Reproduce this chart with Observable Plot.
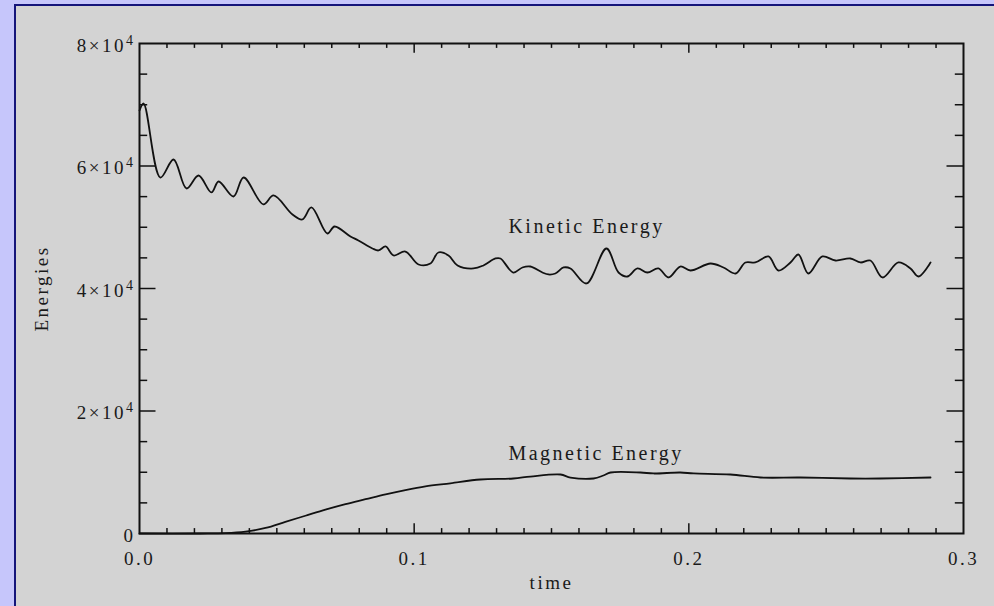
<!DOCTYPE html>
<html>
<head>
<meta charset="utf-8">
<script src="https://cdn.jsdelivr.net/npm/d3@7"></script>
<script src="https://cdn.jsdelivr.net/npm/@observablehq/plot@0.6"></script>
<style>
  html, body { margin: 0; padding: 0; }
  body { width: 994px; height: 606px; background: #c6c6fb; position: relative; overflow: hidden; }
  #panel { position: absolute; left: 14px; top: 4px; width: 980px; height: 602px; background: #d3d3d3; border-top: 2px solid #14147a; border-left: 2px solid #14147a; }
  #chart { position: absolute; left: 0; top: 0; }
  #chart svg text { letter-spacing: 2.5px; }
</style>
</head>
<body>
<div id="panel"></div>
<div id="chart"></div>
<script>
// Kinetic energy series (time, energy)
const kinTime = [0, 0.0015, 0.0076, 0.0124, 0.0171, 0.0215, 0.0262, 0.0288, 0.0342, 0.0379, 0.0451, 0.0488, 0.0557, 0.0593, 0.0626, 0.0684, 0.0710, 0.0768, 0.0797, 0.0848, 0.0870, 0.0896, 0.0925, 0.0968, 0.1016, 0.1059, 0.1088, 0.1125, 0.1158, 0.1216, 0.1252, 0.1296, 0.1314, 0.1361, 0.1394, 0.1423, 0.1467, 0.1489, 0.1514, 0.1544, 0.1569, 0.1627, 0.1700, 0.1744, 0.1776, 0.1813, 0.1849, 0.1889, 0.1926, 0.1969, 0.2006, 0.2079, 0.2126, 0.2170, 0.2206, 0.2242, 0.2290, 0.2326, 0.2370, 0.2399, 0.2435, 0.2486, 0.2534, 0.2588, 0.2625, 0.2661, 0.2705, 0.2763, 0.2807, 0.2836, 0.2880];
const kinEnergy = [69060, 70200, 58120, 61060, 56330, 58450, 55680, 57470, 55020, 58120, 53720, 55190, 52080, 51270, 53230, 48980, 50120, 48490, 47840, 46530, 46210, 46860, 45390, 46040, 43920, 44080, 45880, 45390, 43760, 43270, 43760, 44900, 44900, 42610, 43430, 43590, 42610, 42290, 42450, 43430, 43270, 40820, 46530, 42610, 41960, 43270, 42610, 43270, 41800, 43590, 42940, 44080, 43430, 42450, 44250, 44250, 45230, 42940, 44250, 45550, 42450, 45230, 44570, 44900, 44250, 44570, 41800, 44250, 43270, 41960, 44250];

// Magnetic energy series (time, energy)
const magTime = [0, 0.0222, 0.0313, 0.0386, 0.0459, 0.0531, 0.0604, 0.0677, 0.0750, 0.0823, 0.0896, 0.0968, 0.1041, 0.1132, 0.1241, 0.1361, 0.1423, 0.1533, 0.1569, 0.1653, 0.1689, 0.1715, 0.1824, 0.1871, 0.1969, 0.2017, 0.2151, 0.2261, 0.2406, 0.2588, 0.2697, 0.2880];
const magEnergy = [0, 0, 50, 300, 900, 1900, 2900, 3900, 4800, 5600, 6400, 7100, 7700, 8200, 8820, 8980, 9300, 9630, 9140, 8980, 9470, 9960, 9960, 9800, 9960, 9800, 9630, 9140, 9140, 8980, 8980, 9140];

// Curve labels
const labelText = ["Kinetic Energy", "Magnetic Energy"];
const labelTime = [0.1343, 0.1343];
const labelEnergy = [50100, 13060];

// Ticks
const xMajor = [0, 0.1, 0.2, 0.3];
const xMinor = [0.01, 0.02, 0.03, 0.04, 0.05, 0.06, 0.07, 0.08, 0.09, 0.11, 0.12, 0.13, 0.14, 0.15, 0.16, 0.17, 0.18, 0.19, 0.21, 0.22, 0.23, 0.24, 0.25, 0.26, 0.27, 0.28, 0.29];
const xMajorInner = [0.1, 0.2];
const yMajor = [0, 20000, 40000, 60000, 80000];
const yMajorInner = [20000, 40000, 60000];
const yMinor = [5000, 10000, 15000, 25000, 30000, 35000, 45000, 50000, 55000, 65000, 70000, 75000];

const kinetic = kinTime.map((t, i) => ({t, e: kinEnergy[i]}));
const magnetic = magTime.map((t, i) => ({t, e: magEnergy[i]}));
const labels = labelText.map((s, i) => ({s, t: labelTime[i], e: labelEnergy[i]}));

const W = 994, H = 606, mL = 139, mR = 31, mT = 43, mB = 73;
const pw = W - mL - mR, ph = H - mT - mB;
const ink = "#111";

const chart = Plot.plot({
  width: W, height: H,
  marginLeft: mL, marginRight: mR, marginTop: mT, marginBottom: mB,
  x: {domain: [0, 0.3]},
  y: {domain: [0, 80000]},
  style: {background: "transparent", fontFamily: "'Liberation Serif', 'DejaVu Serif', serif", color: "#1a1a1a", overflow: "visible"},
  marks: [
    // minor & major ticks, bottom and top
    Plot.tickX(xMinor, {x: d => d, insetTop: ph - 4.9, stroke: ink, strokeWidth: 1.5}),
    Plot.tickX(xMinor, {x: d => d, insetBottom: ph - 4.9, stroke: ink, strokeWidth: 1.5}),
    Plot.tickX(xMajorInner, {x: d => d, insetTop: ph - 9.8, stroke: ink, strokeWidth: 1.5}),
    Plot.tickX(xMajorInner, {x: d => d, insetBottom: ph - 9.8, stroke: ink, strokeWidth: 1.5}),
    // minor & major ticks, left and right
    Plot.tickY(yMinor, {y: d => d, insetRight: pw - 8.2, stroke: ink, strokeWidth: 1.5}),
    Plot.tickY(yMinor, {y: d => d, insetLeft: pw - 8.2, stroke: ink, strokeWidth: 1.5}),
    Plot.tickY(yMajorInner, {y: d => d, insetRight: pw - 16.5, stroke: ink, strokeWidth: 1.5}),
    Plot.tickY(yMajorInner, {y: d => d, insetLeft: pw - 16.5, stroke: ink, strokeWidth: 1.5}),
    Plot.frame({stroke: ink, strokeWidth: 2}),
    Plot.axisX({ticks: xMajor, tickSize: 0, tickPadding: 18, tickFormat: d3.format(".1f"), fontSize: 19, label: null}),
    Plot.axisY({ticks: yMajor, tickSize: 0, tickPadding: 4, dy: 2, tickFormat: d => d === 0 ? "0" : `${d / 1e4}×10^4`, fontSize: 19, label: null}),
    Plot.text(["time"], {frameAnchor: "bottom", dy: 49, fontSize: 19, lineAnchor: "middle", textAnchor: "middle"}),
    Plot.text(["Energies"], {frameAnchor: "left", dx: -98, rotate: -90, fontSize: 19, lineAnchor: "middle", textAnchor: "middle"}),
    Plot.line(kinetic, {x: "t", y: "e", stroke: ink, strokeWidth: 1.8, curve: "catmull-rom"}),
    Plot.line(magnetic, {x: "t", y: "e", stroke: ink, strokeWidth: 1.8, curve: "catmull-rom"}),
    Plot.text(labels, {x: "t", y: "e", text: "s", textAnchor: "start", fontSize: 20, lineAnchor: "middle", fill: "#1a1a1a", style: "letter-spacing:2.8px"})
  ]
});

// superscript exponents in y tick labels
chart.querySelectorAll("text").forEach(t => {
  const s = t.textContent;
  if (s.includes("^")) {
    const [base, exp] = s.split("^");
    while (t.firstChild) t.removeChild(t.firstChild);
    const a = document.createElementNS("http://www.w3.org/2000/svg", "tspan");
    a.textContent = base;
    const b = document.createElementNS("http://www.w3.org/2000/svg", "tspan");
    b.textContent = exp;
    b.setAttribute("dy", "-7");
    b.setAttribute("font-size", "14");
    t.appendChild(a);
    t.appendChild(b);
  }
});

document.getElementById("chart").appendChild(chart);
</script>
</body>
</html>
